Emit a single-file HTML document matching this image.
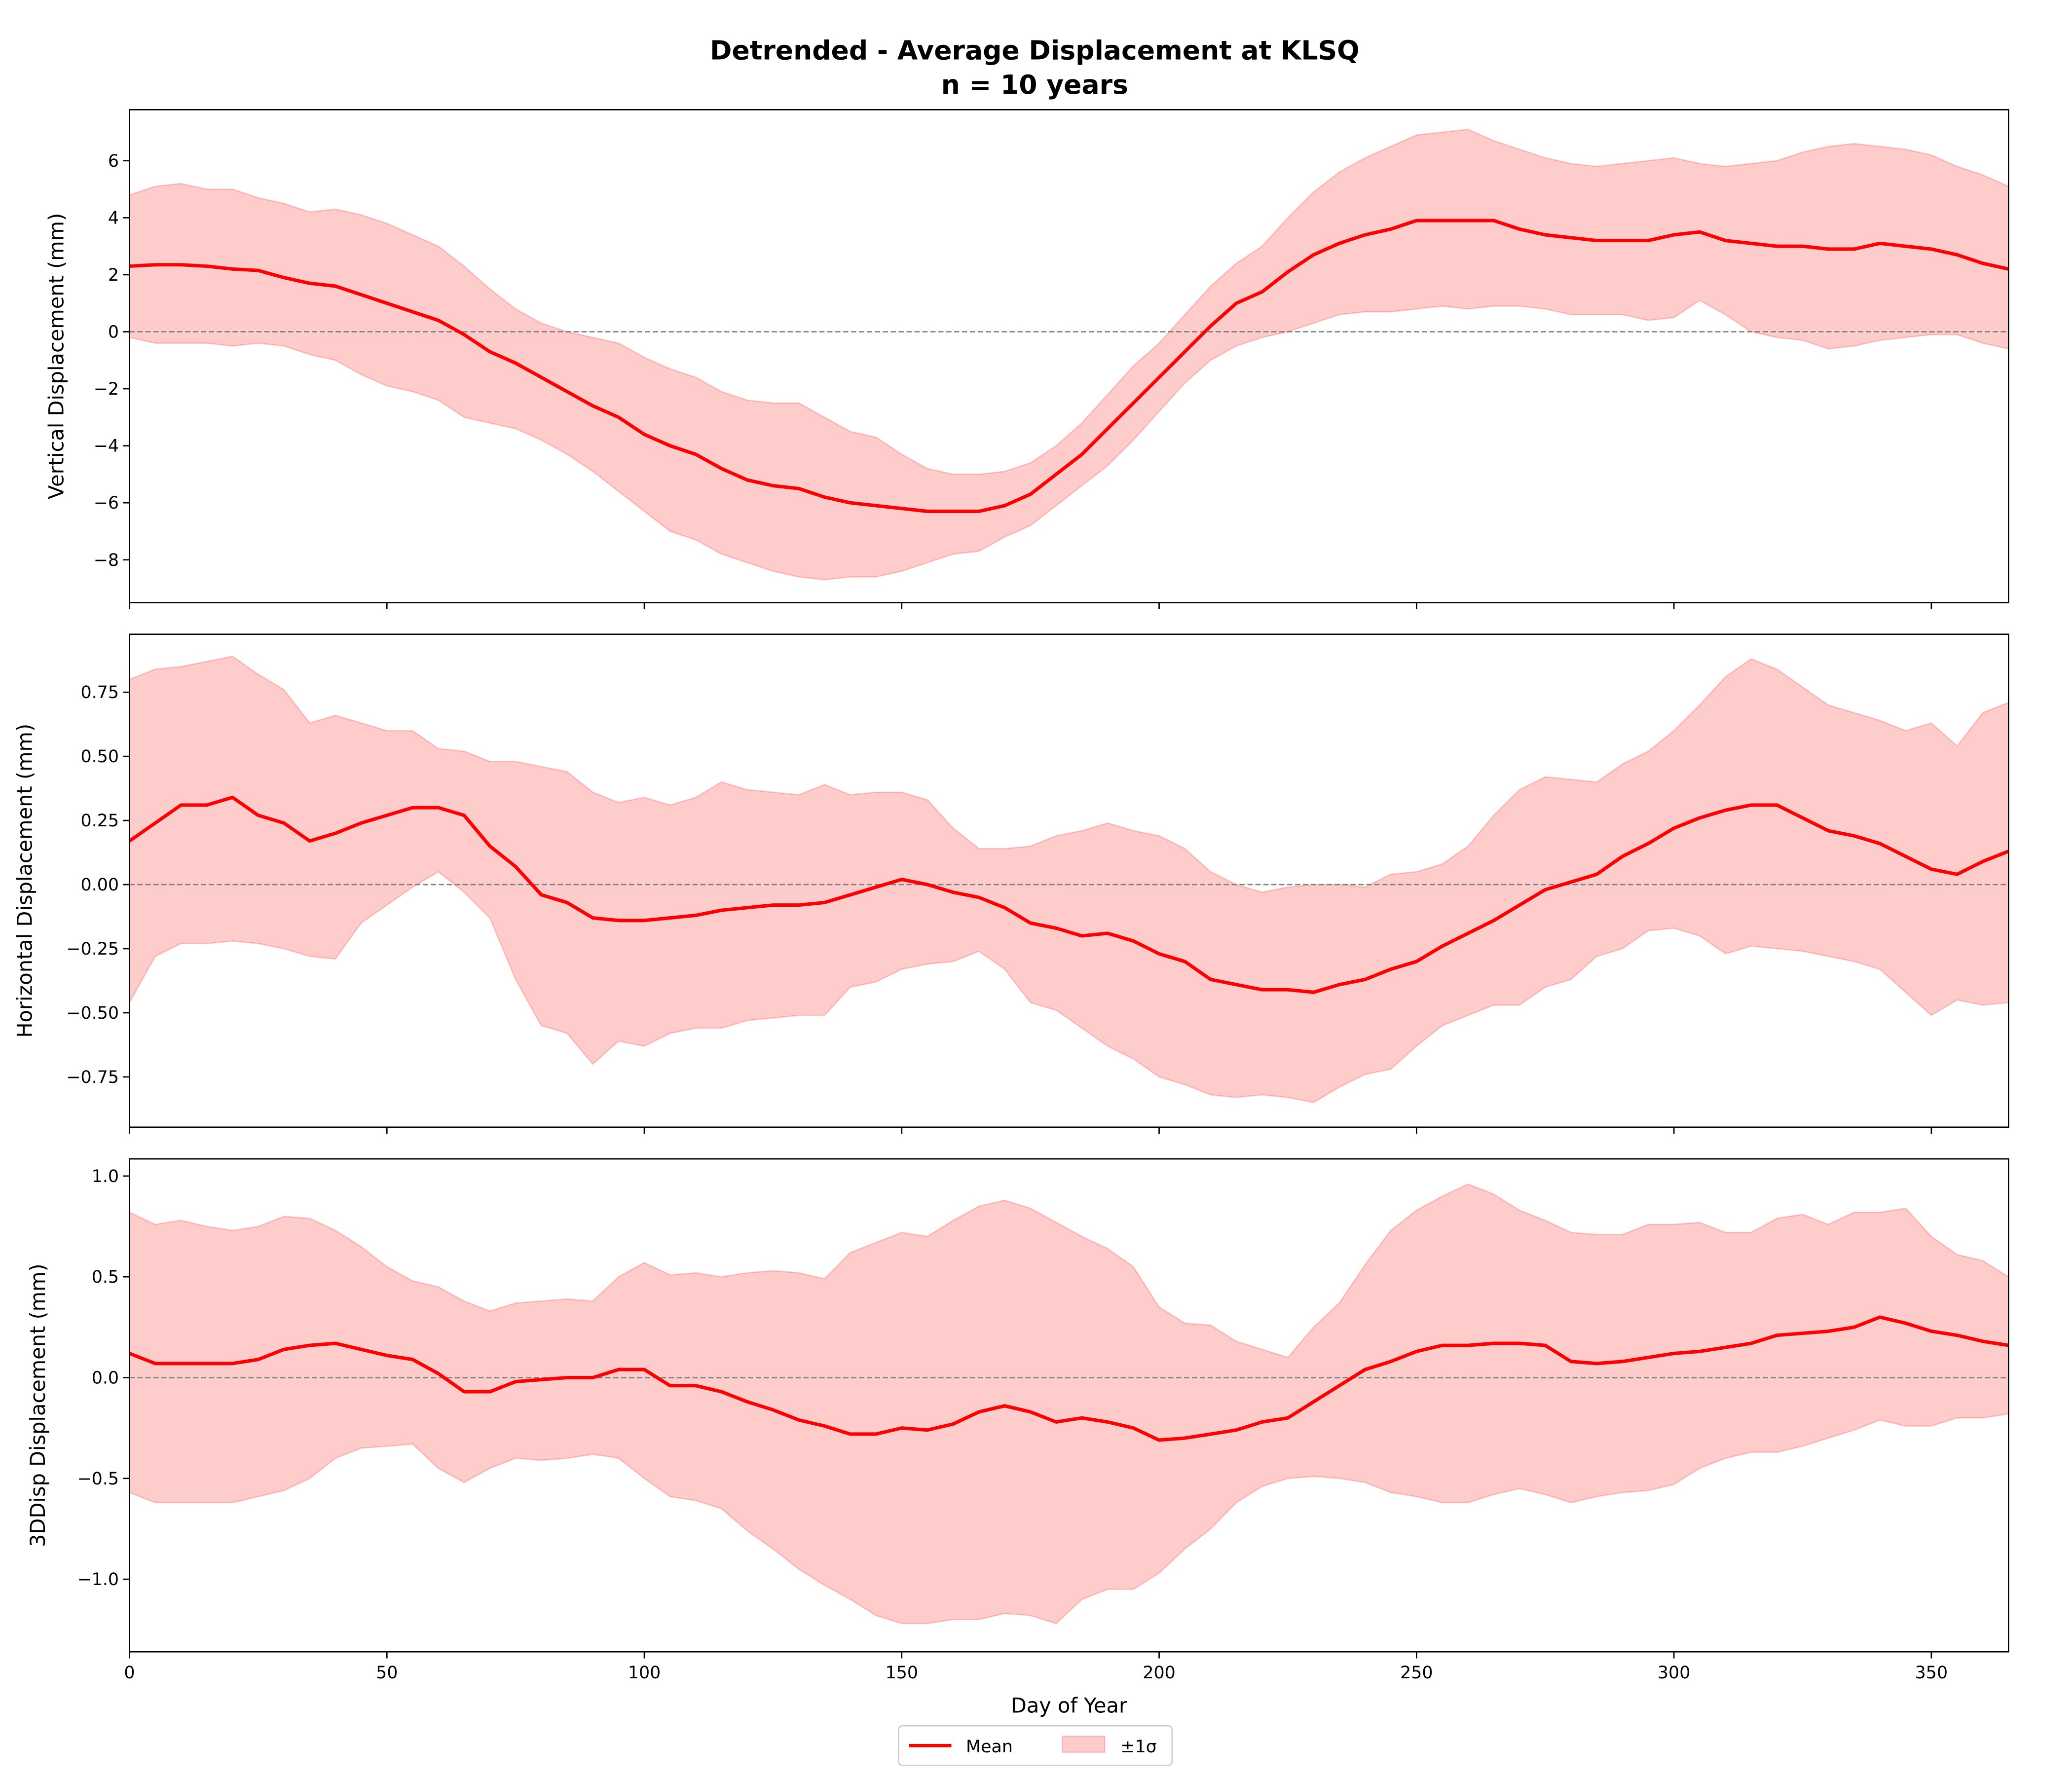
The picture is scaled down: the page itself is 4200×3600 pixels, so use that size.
<!DOCTYPE html>
<html><head><meta charset="utf-8"><style>
html,body{margin:0;padding:0;background:#fff;}
svg{display:block;font-family:"DejaVu Sans","Liberation Sans",sans-serif;}
</style></head><body>
<svg id="fig" width="4200" height="3600" viewBox="0 0 1568 1344" xmlns="http://www.w3.org/2000/svg">
<rect width="1568" height="1344" fill="#fff"/>
<text x="783" y="45" text-anchor="middle" font-size="20" font-weight="bold">Detrended - Average Displacement at KLSQ</text>
<text x="783" y="71" text-anchor="middle" font-size="20" font-weight="bold">n = 10 years</text>
<g id="plots"></g>
<g>
<rect x="680" y="1306" width="207" height="30" fill="#fff" stroke="#ccc" stroke-width="1" rx="3"/>
<line x1="688" y1="1321" x2="720" y2="1321" stroke="red" stroke-width="2.5"/>
<text x="731" y="1326" font-size="13">Mean</text>
<rect x="804" y="1314" width="32" height="12" fill="#ff0000" fill-opacity="0.2" stroke="#ff0000" stroke-opacity="0.2"/>
<text x="848" y="1326" font-size="13">±1σ</text>
</g>
</svg>
<script>
const days = [];
for (let d = 0; d <= 365; d += 5) days.push(d);
const vertMean = [2.3,2.35,2.35,2.3,2.2,2.15,1.9,1.7,1.6,1.3,1.0,0.7,0.4,-0.1,-0.7,-1.1,-1.6,-2.1,-2.6,-3.0,-3.6,-4.0,-4.3,-4.8,-5.2,-5.4,-5.5,-5.8,-6.0,-6.1,-6.2,-6.3,-6.3,-6.3,-6.1,-5.7,-5.0,-4.3,-3.4,-2.5,-1.6,-0.7,0.2,1.0,1.4,2.1,2.7,3.1,3.4,3.6,3.9,3.9,3.9,3.9,3.6,3.4,3.3,3.2,3.2,3.2,3.4,3.5,3.2,3.1,3.0,3.0,2.9,2.9,3.1,3.0,2.9,2.7,2.4,2.2];
const vertUpper = [4.8,5.1,5.2,5.0,5.0,4.7,4.5,4.2,4.3,4.1,3.8,3.4,3.0,2.3,1.5,0.8,0.3,0.0,-0.2,-0.4,-0.9,-1.3,-1.6,-2.1,-2.4,-2.5,-2.5,-3.0,-3.5,-3.7,-4.3,-4.8,-5.0,-5.0,-4.9,-4.6,-4.0,-3.2,-2.2,-1.2,-0.4,0.6,1.6,2.4,3.0,4.0,4.9,5.6,6.1,6.5,6.9,7.0,7.1,6.7,6.4,6.1,5.9,5.8,5.9,6.0,6.1,5.9,5.8,5.9,6.0,6.3,6.5,6.6,6.5,6.4,6.2,5.8,5.5,5.1];
const vertLower = [-0.2,-0.4,-0.4,-0.4,-0.5,-0.4,-0.5,-0.8,-1.0,-1.5,-1.9,-2.1,-2.4,-3.0,-3.2,-3.4,-3.8,-4.3,-4.9,-5.6,-6.3,-7.0,-7.3,-7.8,-8.1,-8.4,-8.6,-8.7,-8.6,-8.6,-8.4,-8.1,-7.8,-7.7,-7.2,-6.8,-6.1,-5.4,-4.7,-3.8,-2.8,-1.8,-1.0,-0.5,-0.2,0.0,0.3,0.6,0.7,0.7,0.8,0.9,0.8,0.9,0.9,0.8,0.6,0.6,0.6,0.4,0.5,1.1,0.6,0.0,-0.2,-0.3,-0.6,-0.5,-0.3,-0.2,-0.1,-0.1,-0.4,-0.6];
const horMean = [0.17,0.24,0.31,0.31,0.34,0.27,0.24,0.17,0.20,0.24,0.27,0.30,0.30,0.27,0.15,0.07,-0.04,-0.07,-0.13,-0.14,-0.14,-0.13,-0.12,-0.10,-0.09,-0.08,-0.08,-0.07,-0.04,-0.01,0.02,0.00,-0.03,-0.05,-0.09,-0.15,-0.17,-0.20,-0.19,-0.22,-0.27,-0.30,-0.37,-0.39,-0.41,-0.41,-0.42,-0.39,-0.37,-0.33,-0.30,-0.24,-0.19,-0.14,-0.08,-0.02,0.01,0.04,0.11,0.16,0.22,0.26,0.29,0.31,0.31,0.26,0.21,0.19,0.16,0.11,0.06,0.04,0.09,0.13];
const horUpper = [0.80,0.84,0.85,0.87,0.89,0.82,0.76,0.63,0.66,0.63,0.60,0.60,0.53,0.52,0.48,0.48,0.46,0.44,0.36,0.32,0.34,0.31,0.34,0.40,0.37,0.36,0.35,0.39,0.35,0.36,0.36,0.33,0.22,0.14,0.14,0.15,0.19,0.21,0.24,0.21,0.19,0.14,0.05,0.00,-0.03,-0.01,0.00,0.00,-0.01,0.04,0.05,0.08,0.15,0.27,0.37,0.42,0.41,0.40,0.47,0.52,0.60,0.70,0.81,0.88,0.84,0.77,0.70,0.67,0.64,0.60,0.63,0.54,0.67,0.71];
const horLower = [-0.46,-0.28,-0.23,-0.23,-0.22,-0.23,-0.25,-0.28,-0.29,-0.15,-0.08,-0.01,0.05,-0.03,-0.13,-0.37,-0.55,-0.58,-0.70,-0.61,-0.63,-0.58,-0.56,-0.56,-0.53,-0.52,-0.51,-0.51,-0.40,-0.38,-0.33,-0.31,-0.30,-0.26,-0.33,-0.46,-0.49,-0.56,-0.63,-0.68,-0.75,-0.78,-0.82,-0.83,-0.82,-0.83,-0.85,-0.79,-0.74,-0.72,-0.63,-0.55,-0.51,-0.47,-0.47,-0.40,-0.37,-0.28,-0.25,-0.18,-0.17,-0.20,-0.27,-0.24,-0.25,-0.26,-0.28,-0.30,-0.33,-0.42,-0.51,-0.45,-0.47,-0.46];
const d3Mean = [0.12,0.07,0.07,0.07,0.07,0.09,0.14,0.16,0.17,0.14,0.11,0.09,0.02,-0.07,-0.07,-0.02,-0.01,0.00,0.00,0.04,0.04,-0.04,-0.04,-0.07,-0.12,-0.16,-0.21,-0.24,-0.28,-0.28,-0.25,-0.26,-0.23,-0.17,-0.14,-0.17,-0.22,-0.20,-0.22,-0.25,-0.31,-0.30,-0.28,-0.26,-0.22,-0.20,-0.12,-0.04,0.04,0.08,0.13,0.16,0.16,0.17,0.17,0.16,0.08,0.07,0.08,0.10,0.12,0.13,0.15,0.17,0.21,0.22,0.23,0.25,0.30,0.27,0.23,0.21,0.18,0.16];
const d3Upper = [0.82,0.76,0.78,0.75,0.73,0.75,0.80,0.79,0.73,0.65,0.55,0.48,0.45,0.38,0.33,0.37,0.38,0.39,0.38,0.50,0.57,0.51,0.52,0.50,0.52,0.53,0.52,0.49,0.62,0.67,0.72,0.70,0.78,0.85,0.88,0.84,0.77,0.70,0.64,0.55,0.35,0.27,0.26,0.18,0.14,0.10,0.25,0.37,0.56,0.73,0.83,0.90,0.96,0.91,0.83,0.78,0.72,0.71,0.71,0.76,0.76,0.77,0.72,0.72,0.79,0.81,0.76,0.82,0.82,0.84,0.70,0.61,0.58,0.50];
const d3Lower = [-0.57,-0.62,-0.62,-0.62,-0.62,-0.59,-0.56,-0.50,-0.40,-0.35,-0.34,-0.33,-0.45,-0.52,-0.45,-0.40,-0.41,-0.40,-0.38,-0.40,-0.50,-0.59,-0.61,-0.65,-0.76,-0.85,-0.95,-1.03,-1.10,-1.18,-1.22,-1.22,-1.20,-1.20,-1.17,-1.18,-1.22,-1.10,-1.05,-1.05,-0.97,-0.85,-0.75,-0.62,-0.54,-0.50,-0.49,-0.50,-0.52,-0.57,-0.59,-0.62,-0.62,-0.58,-0.55,-0.58,-0.62,-0.59,-0.57,-0.56,-0.53,-0.45,-0.40,-0.37,-0.37,-0.34,-0.30,-0.26,-0.21,-0.24,-0.24,-0.20,-0.20,-0.18];
const xTicks = [0,50,100,150,200,250,300,350];
const vertTicks = [-8,-6,-4,-2,0,2,4,6];
const horTicks = [-0.75,-0.5,-0.25,0,0.25,0.5,0.75];
const d3Ticks = [-1.0,-0.5,0.0,0.5,1.0];

const NS = "http://www.w3.org/2000/svg";
const L = 98, R = 1520;
function xs(d){ return L + (d/365)*(R-L); }
function mk(tag, attrs, parent){
  const e = document.createElementNS(NS, tag);
  for (const k in attrs) e.setAttribute(k, attrs[k]);
  parent.appendChild(e); return e;
}
function fmt(v, dec){ return (v<0?"\u2212":"") + Math.abs(v).toFixed(dec); }
const panels = [
  {key:"vertical", top:83, bot:456, ymin:-9.5, ymax:7.79, mean:vertMean, up:vertUpper, lo:vertLower, ticks:vertTicks, dec:0, label:"Vertical Displacement (mm)", lx:48},
  {key:"horizontal", top:480, bot:853, ymin:-0.946, ymax:0.976, mean:horMean, up:horUpper, lo:horLower, ticks:horTicks, dec:2, label:"Horizontal Displacement (mm)", lx:24},
  {key:"3d", top:877, bot:1250, ymin:-1.36, ymax:1.085, mean:d3Mean, up:d3Upper, lo:d3Lower, ticks:d3Ticks, dec:1, label:"3DDisp Displacement (mm)", lx:34}
];
const root = document.getElementById("plots");
panels.forEach((p, pi) => {
  const g = mk("g", {}, root);
  
  
  const ys = v => p.bot - (v - p.ymin)/(p.ymax - p.ymin)*(p.bot - p.top);
  let pts = days.map((d,i)=>xs(d)+","+ys(p.up[i]));
  for (let i=days.length-1;i>=0;i--) pts.push(xs(days[i])+","+ys(p.lo[i]));
  const band = mk("polygon", {points:pts.join(" "), fill:"#ff0000", "fill-opacity":"0.2", stroke:"#ff0000", "stroke-opacity":"0.2", "stroke-width":"1"}, g);
  
  
  const zl = mk("line", {x1:L, x2:R, y1:ys(0), y2:ys(0), stroke:"#808080", "stroke-width":"1", "stroke-dasharray":"4,2"}, g);
  
  
  const ml = mk("polyline", {points:days.map((d,i)=>xs(d)+","+ys(p.mean[i])).join(" "), fill:"none", stroke:"red", "stroke-width":"2.6", "stroke-linejoin":"round"}, g);
  
  
  const fr = mk("rect", {x:L, y:p.top, width:R-L, height:p.bot-p.top, fill:"none", stroke:"#000", "stroke-width":"1"}, g);
  
  
  p.ticks.forEach(t => {
    const y = ys(t);
    mk("line", {x1:L-5, x2:L, y1:y, y2:y, stroke:"#000", "stroke-width":"1"}, g);
    const tx = mk("text", {x:L-8, y:y+4.5, "text-anchor":"end", "font-size":"13"}, g);
    tx.textContent = fmt(t, p.dec);
    
    
  });
  xTicks.forEach(t => {
    mk("line", {x1:xs(t), x2:xs(t), y1:p.bot, y2:p.bot+5, stroke:"#000", "stroke-width":"1"}, g);
    if (pi === 2) {
      const tx = mk("text", {x:xs(t), y:p.bot+20, "text-anchor":"middle", "font-size":"13"}, g);
      tx.textContent = String(t);
      
      
    }
  });
  const cy = (p.top+p.bot)/2;
  const yl = mk("text", {x:p.lx, y:cy, "text-anchor":"middle", "font-size":"15.5", transform:"rotate(-90 "+p.lx+" "+cy+")"}, g);
  yl.textContent = p.label;
  
  
});
const xt = mk("text", {x:(L+R)/2, y:1296, "text-anchor":"middle", "font-size":"15.5"}, root);
xt.textContent = "Day of Year";


</script>
</body></html>
